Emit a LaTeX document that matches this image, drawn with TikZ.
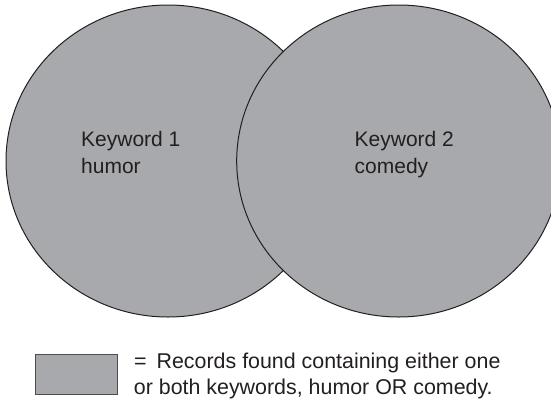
\documentclass[tikz,border=0pt]{standalone}
\usepackage{fontspec}
\setmainfont{Liberation Sans}
\usetikzlibrary{shapes.geometric}
\definecolor{setgray}{RGB}{167,169,172}
\definecolor{inkdark}{RGB}{35,31,32}
\begin{document}
\begin{tikzpicture}[x=1pt,y=-1pt,
  setarea/.style={ellipse, draw=inkdark, fill=setgray, line width=1pt,
    minimum width=324pt, minimum height=312pt, inner sep=0pt},
  keybox/.style={rectangle, draw=inkdark!80, fill=setgray, line width=1.6pt,
    minimum width=82pt, minimum height=40pt, inner sep=0pt},
  captext/.style={anchor=base west, inner sep=0pt, text=inkdark,
    font=\fontsize{21}{27}\selectfont},
  keytext/.style={captext, font=\fontsize{21.4}{27}\selectfont}]
\useasboundingbox (0,0) rectangle (551,402);
\clip (0,0) rectangle (551,402);
% the two keyword sets
\node[setarea] (humor) at (168,161) {};
\node[setarea] (comedy) at (398.7,161) {};
% set labels
\node[captext] (k1a) at (81,146.5) {Keyword 1};
\node[captext] (k1b) at (81,173.5) {humor};
\node[captext] (k2a) at (354.5,146.5) {Keyword 2};
\node[captext] (k2b) at (354.5,173.5) {comedy};
% legend
\node[keybox] (key) at (76.3,374.3) {};
\node[keytext] (keytxta) at (134,368.3) {=\hspace{4pt} Records found containing either one};
\node[keytext] (keytxtb) at (133.7,394.8) {or both keywords, humor OR comedy.};
\end{tikzpicture}
\end{document}
